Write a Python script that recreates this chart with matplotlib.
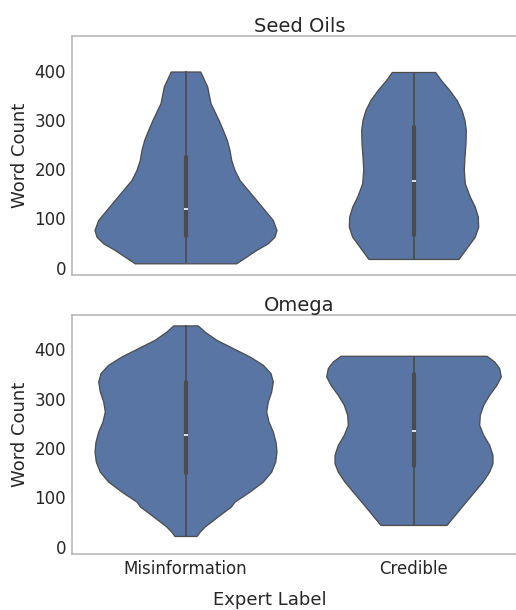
import numpy as np
import matplotlib
matplotlib.use("Agg")
import matplotlib.pyplot as plt

# ---------------- data ----------------
categories = ["Misinformation", "Credible"]
panels = ["Seed Oils", "Omega"]
y_ticks = [0, 100, 200, 300, 400]

# violin outlines: word count levels and half-widths (pixels at 228 px per category)
seed_mis_y = [8.9, 22.3, 35.9, 49.5, 63, 76.5, 96.9, 117.2, 137.5, 157.8, 178.1,
              198.4, 218.7, 239.0, 259.3, 279.6, 299.9, 333.8, 367.6, 398.0]
seed_mis_w = [50.7, 60.7, 70.7, 82.3, 89, 91, 87.3, 79, 70.7, 62.3, 54,
              49, 45.7, 44, 41.3, 37.3, 33, 25, 21.7, 14.7]
seed_cred_y = [17.7, 42.6, 62.9, 83.2, 103.6, 123.9, 144.2, 171.3, 198.4, 225.4,
               252.6, 279.6, 299.9, 320.2, 340.5, 360.8, 381.0, 397.0]
seed_cred_w = [45, 54, 61.3, 64.7, 64.3, 61.3, 56.3, 51.3, 50.3, 51,
               52, 52.3, 51, 48, 43, 35.7, 27.3, 21.7]
omega_mis_y = [21.7, 30, 40.6, 60.9, 81.1, 91.3, 111.6, 131.8, 152.1, 172.4, 192.7,
               213, 233.3, 253.5, 273.8, 294.1, 314.4, 334.7, 351.7, 368.6,
               385.4, 402.4, 419.3, 436, 448.3]
omega_mis_w = [11, 14, 19, 32, 45.3, 49, 64, 77.3, 85.7, 89.7, 91,
               90, 87.3, 83, 80.7, 82.3, 85.7, 87.3, 85, 77.3,
               64, 47.3, 30.7, 19, 12.3]
omega_cred_y = [44, 71, 91.3, 111.6, 131.8, 152.1, 169.1, 186, 206.3, 226.6,
                246.8, 267.1, 287.4, 307.7, 328, 344.8, 361.8, 375.3, 386.8]
omega_cred_w = [33, 44, 52.3, 60.7, 69, 75.7, 79, 79, 75.7, 69.7,
                65.7, 66.3, 69.7, 75.7, 83, 87.3, 85.7, 80.7, 73]

# box summaries: min, q1, median, q3, max
seed_mis_box = [8.9, 64, 119.5, 224, 398]
seed_cred_box = [17.7, 66, 175.5, 284.5, 397]
omega_mis_box = [21.7, 150, 226.6, 332.7, 448.3]
omega_cred_box = [44, 163.7, 235.3, 349.7, 386.8]

outlines = {
    "Seed Oils": [(seed_mis_y, seed_mis_w, seed_mis_box),
                  (seed_cred_y, seed_cred_w, seed_cred_box)],
    "Omega": [(omega_mis_y, omega_mis_w, omega_mis_box),
              (omega_cred_y, omega_cred_w, omega_cred_box)],
}

# ---------------- style ----------------
PX_PER_CAT = 228.0
FILL = "#5875a3"
EDGE = "#4b4b4b"
TEXT = "#262626"
SPINE = "#b3b3b3"

plt.rcParams["font.family"] = ["DejaVu Sans"]

fig = plt.figure(figsize=(5.16, 6.10), dpi=100)
W, H = 516.0, 610.0
ax_top = fig.add_axes([71.5 / W, 1 - 275 / H, 456 / W, 239 / H])
ax_bot = fig.add_axes([71.5 / W, 1 - 554 / H, 456 / W, 239.3 / H],
                      sharex=ax_top, sharey=ax_top)

positions = np.arange(len(categories))

for ax, name in zip([ax_top, ax_bot], panels):
    vpstats = []
    widths = []
    for ys, ws, box in outlines[name]:
        ys = np.asarray(ys, float)
        ws = np.asarray(ws, float) / PX_PER_CAT
        vpstats.append(dict(coords=ys, vals=ws, mean=box[2], median=box[2],
                            min=box[0], max=box[4]))
        widths.append(2 * ws.max())
    parts = ax.violin(vpstats, positions=positions, widths=widths,
                      showmeans=False, showextrema=False, showmedians=False)
    for b in parts["bodies"]:
        b.set_facecolor(FILL)
        b.set_edgecolor(EDGE)
        b.set_linewidth(0.9)
        b.set_alpha(1)
        b.set_zorder(2)
    for pos, (ys, ws, box) in zip(positions, outlines[name]):
        ax.plot([pos, pos], [box[0], box[4]], color=EDGE, lw=1.2,
                solid_capstyle="butt", zorder=3)
        ax.plot([pos, pos], [box[1], box[3]], color=EDGE, lw=3.0,
                solid_capstyle="round", zorder=4)
        ax.plot([pos], [box[2]], marker="_", ms=3.2, mew=1.2,
                color="white", zorder=5)

    ax.set_title(name, fontsize=14, color=TEXT, pad=3)
    ax.set_ylabel("Word Count", fontsize=13, color=TEXT, labelpad=4)
    for s in ax.spines.values():
        s.set_color(SPINE)
        s.set_linewidth(1.1)
    ax.tick_params(axis="both", length=0, labelsize=12, colors=TEXT, pad=4)
    ax.set_yticks(y_ticks)

ax_top.set_xlim(-0.5, 1.5)
ax_top.set_ylim(-14.8, 470)
ax_bot.set_xticks(positions)
ax_bot.set_xticklabels(categories)
ax_top.tick_params(axis="x", labelbottom=False)

fig.text(270 / W, 1 - 605 / H, "Expert Label", fontsize=13, color=TEXT,
         ha="center", va="baseline")

fig.savefig("out.png", dpi=100)
